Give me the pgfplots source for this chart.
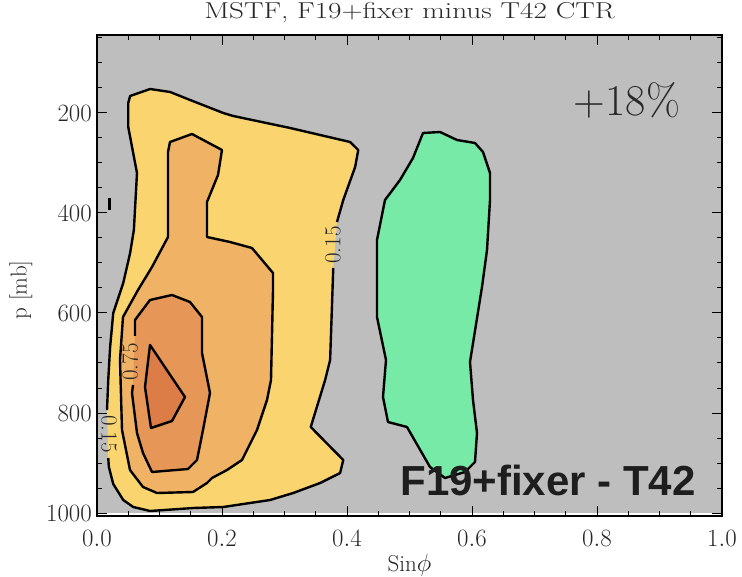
\documentclass[border=0pt]{standalone}
\usepackage{pgfplots}
\pgfplotsset{compat=1.18}
\usepackage{graphicx}
\usepackage{fontspec}
\newfontfamily\labelsans{Liberation Sans}

\definecolor{bggray}{RGB}{190,190,190}
\definecolor{lev1}{RGB}{250,212,110}
\definecolor{lev2}{RGB}{240,178,100}
\definecolor{lev3}{RGB}{230,150,86}
\definecolor{lev4}{RGB}{220,125,72}
\definecolor{negfill}{RGB}{120,234,168}
\definecolor{txt}{RGB}{40,40,40}

\begin{document}
\begin{tikzpicture}
\begin{axis}[
  name=ax,
  scale only axis, width=625pt, height=481pt,
  xmin=0, xmax=1, ymin=44, ymax=1006, y dir=reverse,
  axis on top,
  xtick={0,0.2,0.4,0.6,0.8,1},
  ytick={200,400,600,800,1000},
  minor xtick={0.05,0.1,0.15,0.25,0.3,0.35,0.45,0.5,0.55,0.65,0.7,0.75,0.85,0.9,0.95},
  minor ytick={50,100,150,250,300,350,450,500,550,650,700,750,850,900,950},
  tick pos=both, tick align=inside,
  major tick length=10pt, minor tick length=5pt,
  tick style={black, line width=1pt},
  axis line style={line width=1.4pt},
  ticklabel style={font=\fontsize{23}{27}\selectfont, text=txt, inner sep=0pt},
  xticklabel style={anchor=north, yshift=-14pt},
  yticklabel style={anchor=east, xshift=-5pt, /pgf/number format/1000 sep={}},
  xticklabel={\pgfmathprintnumber[fixed,fixed zerofill,precision=1]{\tick}},
  xlabel={Sin$\phi$}, ylabel={p [mb]},
  label style={font=\fontsize{23}{27}\selectfont, text=txt},
  xlabel style={at={(axis description cs:0.5,-0.102)}, anchor=center},
  ylabel style={at={(axis description cs:-0.1216,0.47)}, anchor=center},
  title={\scalebox{1.27}[1]{MSTF, F19+fixer minus T42 CTR}},
  title style={font=\fontsize{23}{27}\selectfont, text=txt,
    at={(axis description cs:0.5,1)}, anchor=center, yshift=16pt},
]

% shaded data region
\addplot[draw=none, fill=bggray] coordinates {(0,44)(1,44)(1,1000)(0,1000)} -- cycle;

% 0.15 contour (fill)
\addplot[draw=none, fill=lev1] coordinates {
 (0.050,180)(0.053,166)(0.085,152)(0.117,158)(0.149,174)(0.202,200)(0.218,206)
 (0.309,230)(0.405,258)(0.418,274)(0.413,308)(0.394,374)(0.384,418)(0.378,510)
 (0.373,694)(0.365,734)(0.342,828)(0.394,894)(0.389,920)(0.357,940)(0.314,960)
 (0.277,974)(0.202,988)(0.154,990)(0.085,996)(0.058,988)(0.042,974)(0.026,942)
 (0.019,908)(0.018,890)(0.016,794)(0.018,734)(0.021,668)(0.026,600)(0.042,540)
 (0.053,480)(0.059,434)(0.064,320)(0.050,228)} -- cycle;

% 0.45 contour
\addplot[draw=black, line width=2.4pt, line join=round, fill=lev2] coordinates {
 (0.1136,278)(0.1168,258)(0.152,242)(0.2,274)(0.1936,324)(0.176,378)(0.176,448)
 (0.2128,458)(0.248,470)(0.2816,520)(0.2816,554)(0.2784,734)(0.272,774)(0.256,834)
 (0.232,894)(0.208,914)(0.184,930)(0.176,940)(0.1536,958)(0.096,960)(0.0736,948)
 (0.0528,914)(0.04,834)(0.0368,694)(0.0416,608)(0.0656,554)(0.088,508)(0.1136,448)} -- cycle;

% 0.75 contour (fill)
\addplot[draw=none, fill=lev3] coordinates {
 (0.0848,574)(0.12,564)(0.1488,578)(0.168,608)(0.168,680)(0.1808,760)(0.1696,834)
 (0.16,894)(0.1456,912)(0.088,918)(0.0736,880)(0.064,840)(0.056,760)(0.0576,744)
 (0.0608,646)(0.0608,614)} -- cycle;

% 1.05 contour
\addplot[draw=black, line width=2.4pt, line join=round, fill=lev4] coordinates {
 (0.0848,664)(0.1408,768)(0.12,816)(0.0864,830)(0.0768,748)} -- cycle;

% negative contour
\addplot[draw=black, line width=2.4pt, line join=round, fill=negfill] coordinates {
 (0.5216,240)(0.5488,238)(0.576,254)(0.6048,260)(0.6176,278)(0.6288,320)(0.6288,374)
 (0.624,474)(0.616,548)(0.5968,698)(0.6016,774)(0.608,840)(0.6048,898)(0.5888,918)
 (0.5568,930)(0.5328,908)(0.496,828)(0.4656,818)(0.4576,768)(0.4624,694)(0.448,608)
 (0.448,454)(0.4608,374)(0.4848,334)(0.5056,290)} -- cycle;

% contour lines broken at their labels
\addplot[black, line width=2.4pt, line join=round] coordinates {
 (0.378,510)(0.373,694)(0.365,734)(0.342,828)(0.394,894)(0.389,920)(0.357,940)
 (0.314,960)(0.277,974)(0.202,988)(0.154,990)(0.085,996)(0.058,988)(0.042,974)
 (0.026,942)(0.019,908)(0.018,890)};
\addplot[black, line width=2.4pt, line join=round] coordinates {
 (0.016,794)(0.018,734)(0.021,668)(0.026,600)(0.042,540)(0.053,480)(0.059,434)
 (0.064,320)(0.050,228)(0.050,180)(0.053,166)(0.085,152)(0.117,158)(0.149,174)
 (0.202,200)(0.218,206)(0.309,230)(0.405,258)(0.418,274)(0.413,308)(0.394,374)
 (0.384,418)};
\addplot[black, line width=2.4pt, line join=round] coordinates {
 (0.0608,646)(0.0608,614)(0.0848,574)(0.12,564)(0.1488,578)(0.168,608)(0.168,680)
 (0.1808,760)(0.1696,834)(0.16,894)(0.1456,912)(0.088,918)(0.0736,880)(0.064,840)
 (0.056,760)(0.0576,744)};
\addplot[black, line width=3pt] coordinates {(0.0208,370)(0.0208,394)};

% contour labels
\node[rotate=90, font=\fontsize{23}{26}\selectfont, text=txt] at (axis cs:0.3776,464) {0.15};
\node[rotate=-90, font=\fontsize{23}{26}\selectfont, text=txt] at (axis cs:0.0192,842) {0.15};
\node[rotate=90, font=\fontsize{23}{26}\selectfont, text=txt] at (axis cs:0.0528,698) {0.75};

% annotations
\node[font=\fontsize{44}{50}\selectfont, text=txt] at (axis cs:0.848,174) {+18\%};
\node[font=\labelsans\bfseries\fontsize{42}{48}\selectfont, text={rgb,255:red,30;green,30;blue,30}]
  at (axis cs:0.7216,934) {F19+fixer - T42};
\end{axis}
\pgfresetboundingbox
\path[use as bounding box] ([shift={(-97pt,-61pt)}]ax.south west) rectangle ([shift={(20pt,35pt)}]ax.north east);
\end{tikzpicture}
\end{document}
